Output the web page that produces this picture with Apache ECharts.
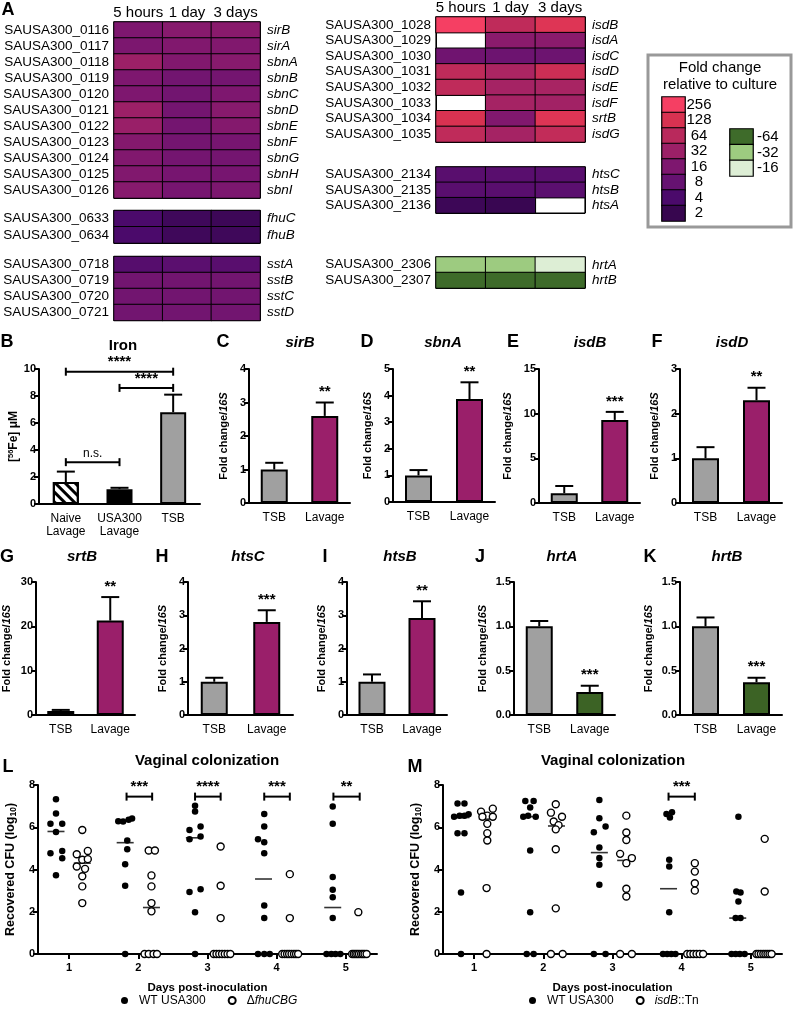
<!DOCTYPE html>
<html><head><meta charset="utf-8">
<script src="https://cdn.jsdelivr.net/npm/echarts@6/dist/echarts.min.js"></script>
<style>html,body{margin:0;padding:0;background:#fff}#c{width:794px;height:1009px}</style>
</head><body><div id="c"></div>
<script>
const FONT = '"Liberation Sans", Arial, Helvetica, sans-serif';

// ---------- Panel A: heatmap (log2 fold change relative to culture; null = not detected)
const hmCols = ['5 hours', '1 day', '3 days'];
const hmL1Ids = ['SAUSA300_0116','SAUSA300_0117','SAUSA300_0118','SAUSA300_0119','SAUSA300_0120','SAUSA300_0121','SAUSA300_0122','SAUSA300_0123','SAUSA300_0124','SAUSA300_0125','SAUSA300_0126'];
const hmL1Genes = ['sirB','sirA','sbnA','sbnB','sbnC','sbnD','sbnE','sbnF','sbnG','sbnH','sbnI'];
const hmL1Vals = [[4.0,4.3,4.35],[3.9,4.1,4.1],[5.0,4.1,4.3],[4.0,3.5,3.6],[4.0,3.5,4.0],[5.0,3.6,4.3],[4.9,3.6,4.2],[4.2,3.6,3.7],[4.1,3.6,3.6],[4.1,3.7,3.7],[4.3,3.7,3.9]];
const hmL2Ids = ['SAUSA300_0633','SAUSA300_0634'];
const hmL2Genes = ['fhuC','fhuB'];
const hmL2Vals = [[2.0,1.4,1.3],[2.0,1.4,1.4]];
const hmL3Ids = ['SAUSA300_0718','SAUSA300_0719','SAUSA300_0720','SAUSA300_0721'];
const hmL3Genes = ['sstA','sstB','sstC','sstD'];
const hmL3Vals = [[2.4,2.6,2.5],[3.5,3.5,3.5],[3.5,3.5,3.5],[3.5,3.5,3.5]];
const hmR1Ids = ['SAUSA300_1028','SAUSA300_1029','SAUSA300_1030','SAUSA300_1031','SAUSA300_1032','SAUSA300_1033','SAUSA300_1034','SAUSA300_1035'];
const hmR1Genes = ['isdB','isdA','isdC','isdD','isdE','isdF','srtB','isdG'];
const hmR1Vals = [[8.0,6.2,7.2],[null,4.4,4.4],[3.4,3.3,3.3],[6.2,5.5,6.6],[6.2,5.3,5.4],[null,5.3,5.2],[7.0,4.1,7.2],[6.2,5.3,6.3]];
const hmR2Ids = ['SAUSA300_2134','SAUSA300_2135','SAUSA300_2136'];
const hmR2Genes = ['htsC','htsB','htsA'];
const hmR2Vals = [[2.5,2.5,2.5],[2.5,2.5,2.6],[1.3,1.1,null]];
const hmR3Ids = ['SAUSA300_2306','SAUSA300_2307'];
const hmR3Genes = ['hrtA','hrtB'];
const hmR3Vals = [[-5,-5,-4],[-6,-6,-6]];
const legUpLabels = ['256','128','64','32','16','8','4','2'];
const legUpVals = [8,7,6,5,4,3,2,1];
const legDnLabels = ['-64','-32','-16'];
const legDnVals = [-6,-5,-4];
const hmPalette = ['#3E6B2A','#9DCB80','#DDEED5','#ffffff','#ffffff','#ffffff','#ffffff','#37064F','#4B0A6B','#661271','#7E176F','#9C2067','#B9295C','#D83251','#F53F63'];

// ---------- Panels B-K: bar charts
const ironCats = ['Naive\nLavage','USA300\nLavage','TSB'];
const ironMean = [1.63, 1.1, 6.8];
const ironUpper = [2.4, 1.2, 8.1];
const ironBrackets = [[0,2,9.8,'****'],[1,2,8.6,'****'],[0,1,3.1,'n.s.']];
const qCats = ['TSB','Lavage'];
const sirBMean = [1.0, 2.6],  sirBUpper = [1.2, 3.0];
const sbnAMean = [1.0, 3.87], sbnAUpper = [1.2, 4.5];
const isdBMean = [1.1, 9.3],  isdBUpper = [1.9, 10.2];
const isdDMean = [1.0, 2.3],  isdDUpper = [1.25, 2.58];
const srtBMean = [0.9, 21.3], srtBUpper = [1.15, 26.6];
const htsCMean = [1.0, 2.8],  htsCUpper = [1.12, 3.15];
const htsBMean = [1.0, 2.92], htsBUpper = [1.22, 3.42];
const hrtAMean = [1.0, 0.26], hrtAUpper = [1.06, 0.33];
const hrtBMean = [1.0, 0.37], hrtBUpper = [1.1, 0.42];

// ---------- Panels L, M: colonization (log10 CFU) [day position, value]
const dayTicks = [1,2,3,4,5];
const lWT = [[0.81,7.32],[0.81,6.65],[0.73,6.17],[0.90,6.17],[0.81,5.78],[0.73,4.77],[0.90,4.87],[0.90,4.53],[0.81,3.73],
  [1.71,6.28],[1.78,6.27],[1.86,6.35],[1.91,6.42],[1.84,5.37],[1.84,4.96],[1.81,4.25],[1.81,3.23],[1.81,0],
  [2.82,7.02],[2.82,6.74],[2.74,5.87],[2.90,6.03],[2.74,5.43],[2.90,5.56],[2.74,2.93],[2.90,3.07],[2.82,1.98],[2.82,0],
  [3.82,6.63],[3.82,6.03],[3.73,5.43],[3.82,5.29],[3.82,4.77],[3.82,2.3],[3.82,1.7],[3.73,0],[3.82,0],[3.90,0],
  [4.81,6.98],[4.81,6.16],[4.81,3.64],[4.81,3.04],[4.81,2.69],[4.81,1.7],[4.72,0],[4.79,0],[4.85,0],[4.92,0]];
const lMut = [[1.19,5.87],[1.11,4.72],[1.27,4.88],[1.19,4.46],[1.27,4.49],[1.11,4.14],[1.23,4.03],[1.19,3.68],[1.19,3.2],[1.19,2.41],
  [2.15,4.9],[2.24,4.9],[2.19,3.72],[2.19,3.2],[2.19,2.41],[2.19,2.02],[2.09,0],[2.15,0],[2.22,0],[2.27,0],
  [3.19,5.09],[3.19,3.23],[3.19,1.7],[3.09,0],[3.13,0],[3.17,0],[3.21,0],[3.25,0],[3.29,0],[3.33,0],
  [4.19,3.78],[4.19,1.7],[4.08,0],[4.115,0],[4.15,0],[4.18,0],[4.215,0],[4.25,0],[4.28,0],[4.31,0],
  [5.18,1.98],[5.09,0],[5.115,0],[5.14,0],[5.165,0],[5.19,0],[5.22,0],[5.245,0],[5.27,0],[5.30,0]];
const lWTMed = [[0.81,5.8],[1.81,5.27],[2.81,5.5],[3.81,3.55],[4.81,2.2]];
const lMutMed = [[1.19,4.3],[2.19,2.2]];
const lSig = [[1.83,2.2,7.45,'***'],[2.82,3.19,7.45,'****'],[3.82,4.19,7.45,'***'],[4.82,5.2,7.45,'**']];
const mWT = [[0.76,7.13],[0.86,7.13],[0.71,6.5],[0.79,6.55],[0.86,6.55],[0.92,6.61],[0.76,5.72],[0.86,5.72],[0.81,2.91],[0.81,0],
  [1.74,7.24],[1.86,7.24],[1.81,6.93],[1.71,6.5],[1.78,6.55],[1.89,6.5],[1.81,4.9],[1.81,1.98],[1.76,0],[1.86,0],
  [2.81,7.29],[2.81,6.43],[2.73,5.76],[2.90,6.03],[2.81,5.04],[2.81,4.54],[2.81,4.22],[2.81,3.28],[2.73,0],[2.90,0],
  [3.78,6.63],[3.86,6.71],[3.83,6.46],[3.82,4.46],[3.82,4.14],[3.82,1.98],[3.73,0],[3.79,0],[3.85,0],[3.91,0],
  [4.82,6.5],[4.79,2.96],[4.85,2.91],[4.82,2.49],[4.78,1.7],[4.85,1.7],[4.72,0],[4.78,0],[4.84,0],[4.91,0]];
const mMut = [[1.27,6.88],[1.10,6.74],[1.19,6.55],[1.12,6.5],[1.27,6.5],[1.19,6.16],[1.19,5.72],[1.19,5.37],[1.18,3.12],[1.18,0],
  [2.18,7.09],[2.11,6.69],[2.27,6.5],[2.15,6.27],[2.22,6.1],[2.18,5.9],[2.18,4.96],[2.18,2.16],[2.11,0],[2.28,0],
  [3.20,6.55],[3.20,5.75],[3.20,5.4],[3.11,4.74],[3.28,4.54],[3.20,4.3],[3.20,3.09],[3.20,2.72],[3.11,0],[3.28,0],
  [4.19,4.3],[4.19,3.9],[4.19,3.35],[4.19,3.0],[4.08,0],[4.125,0],[4.17,0],[4.215,0],[4.26,0],[4.31,0],
  [5.20,5.45],[5.20,2.96],[5.08,0],[5.11,0],[5.145,0],[5.18,0],[5.21,0],[5.24,0],[5.27,0],[5.30,0]];
const mWTMed = [[0.81,6.46],[1.81,6.5],[2.81,4.8],[3.81,3.09],[4.81,1.7]];
const mMutMed = [[1.19,6.39],[2.19,6.06],[3.19,4.43]];
const mSig = [[3.81,4.19,7.45,'***']];

// =====================================================================
const grids = [], xAxes = [], yAxes = [], series = [], graphics = [], heatSeries = [];
const BLACK = '#000';

function txt(x, y, text, font, align, extra) {
  graphics.push({type:'text', x:x, y:y, silent:true, style:Object.assign({text:text, font:font, fill:BLACK,
    align:align||'left', verticalAlign:'middle', textAlign:align||'left', textVerticalAlign:'middle'}, extra||{})});
}

function heatGrid(left, top, width, height, ids, genes, vals, showCols) {
  const gi = grids.length;
  grids.push({left:left, top:top, width:width, height:height, show:true, borderColor:BLACK, borderWidth:1.2, backgroundColor:'#fff'});
  const xi = xAxes.length;
  xAxes.push({gridIndex:gi, type:'category', data:hmCols, position:'top',
    axisLine:{show:false}, axisTick:{show:false},
    splitLine:{show:true, interval:0, lineStyle:{color:BLACK, width:1}},
    axisLabel:{show:showCols, interval:0, fontSize:15, color:BLACK, fontFamily:FONT, margin:2}});
  const yi = yAxes.length;
  yAxes.push({gridIndex:gi, type:'category', data:ids, inverse:true,
    axisLine:{show:false}, axisTick:{show:false},
    splitLine:{show:true, interval:0, lineStyle:{color:BLACK, width:1}},
    axisLabel:{interval:0, fontSize:13.5, color:BLACK, fontFamily:FONT, margin:5}});
  yAxes.push({gridIndex:gi, type:'category', data:genes, inverse:true, position:'right',
    axisLine:{show:false}, axisTick:{show:false}, splitLine:{show:false},
    axisLabel:{interval:0, fontSize:13.5, fontStyle:'italic', color:BLACK, fontFamily:FONT, margin:7}});
  const data = [];
  vals.forEach((row, r) => row.forEach((v, c) => data.push([c, r, v == null ? '-' : v])));
  heatSeries.push(series.length);
  series.push({type:'heatmap', xAxisIndex:xi, yAxisIndex:yi, data:data, silent:true,
    itemStyle:{borderColor:BLACK, borderWidth:1}, emphasis:{disabled:true}});
}

function legendSwatches(left, top, width, height, labels, vals, align, margin) {
  const gi = grids.length;
  grids.push({left:left, top:top, width:width, height:height, show:false});
  const xi = xAxes.length;
  xAxes.push({gridIndex:gi, type:'category', data:[''], show:false});
  const yi = yAxes.length;
  yAxes.push({gridIndex:gi, type:'category', data:labels, inverse:true, position:'right',
    axisLine:{show:false}, axisTick:{show:false}, splitLine:{show:false},
    axisLabel:{interval:0, fontSize:15, color:BLACK, fontFamily:FONT, margin:margin, align:align}});
  heatSeries.push(series.length);
  series.push({type:'heatmap', xAxisIndex:xi, yAxisIndex:yi, silent:true,
    data:vals.map((v, i) => [0, i, v]), itemStyle:{borderColor:BLACK, borderWidth:1.2}, emphasis:{disabled:true}});
}

const yNameStyle = {fontSize:11, fontWeight:'bold', fontFamily:FONT, color:BLACK,
  rich:{i:{fontSize:11, fontWeight:'bold', fontStyle:'italic', fontFamily:FONT, color:BLACK},
        sup:{fontSize:7.5, fontWeight:'bold', fontFamily:FONT, color:BLACK, verticalAlign:'top', lineHeight:13},
        sub:{fontSize:8.5, fontWeight:'bold', fontFamily:FONT, color:BLACK, verticalAlign:'bottom', lineHeight:15},
        n:{fontSize:12, fontWeight:'bold', fontFamily:FONT, color:BLACK, lineHeight:13}}};

function barPanel(p) {
  const gi = grids.length;
  grids.push({left:p.left, top:p.top, width:p.width, height:p.height});
  const xi = xAxes.length, yi = yAxes.length;
  xAxes.push({gridIndex:gi, type:'category', data:p.cats,
    axisLine:{lineStyle:{color:BLACK, width:2}},
    axisTick:{alignWithLabel:true, length:5, lineStyle:{color:BLACK, width:2}},
    axisLabel:{interval:0, color:BLACK, fontSize:12, fontFamily:FONT, margin:8, lineHeight:13}});
  yAxes.push({gridIndex:gi, type:'value', min:0, max:p.max, interval:p.interval,
    axisLine:{show:true, lineStyle:{color:BLACK, width:2}},
    axisTick:{show:true, length:5, lineStyle:{color:BLACK, width:2}},
    splitLine:{show:false},
    axisLabel:{color:BLACK, fontSize:11, fontWeight:'bold', fontFamily:FONT, margin:3, formatter:p.fmt},
    name:p.yname, nameLocation:'middle', nameRotate:90, nameGap:p.nameGap, nameTextStyle:yNameStyle});
  series.push({type:'bar', xAxisIndex:xi, yAxisIndex:yi, barWidth:p.barWidth || 27, silent:true,
    data:p.mean.map((v, i) => {
      const st = {color:p.colors[i], borderColor:BLACK, borderWidth:2};
      if (p.decals && p.decals[i]) st.decal = p.decals[i];
      return {value:v, itemStyle:st};
    })});
  const stars = p.stars || [];
  series.push({type:'custom', xAxisIndex:xi, yAxisIndex:yi, silent:true, z:5,
    data:p.mean.map((v, i) => [i, v, p.upper[i]]),
    renderItem:function(params, api) {
      const a = api.coord([api.value(0), api.value(1)]);
      const b = api.coord([api.value(0), api.value(2)]);
      const ch = [
        {type:'line', shape:{x1:a[0], y1:a[1], x2:b[0], y2:b[1]}, style:{stroke:BLACK, lineWidth:2}},
        {type:'line', shape:{x1:b[0]-9, y1:b[1], x2:b[0]+9, y2:b[1]}, style:{stroke:BLACK, lineWidth:2}}];
      const s = stars[params.dataIndex];
      if (s) ch.push({type:'text', x:b[0], y:b[1]-3, style:{text:s, font:'bold 15px ' + FONT, fill:BLACK,
        align:'center', verticalAlign:'bottom', textAlign:'center', textVerticalAlign:'bottom'}});
      return {type:'group', children:ch};
    }});
  if (p.brackets) {
    series.push({type:'custom', xAxisIndex:xi, yAxisIndex:yi, silent:true, z:5,
      data:p.brackets.map(b => [b[0], b[1], b[2]]),
      renderItem:function(params, api) {
        const a = api.coord([api.value(0), api.value(2)]);
        const b = api.coord([api.value(1), api.value(2)]);
        const lab = p.brackets[params.dataIndex][3];
        return {type:'group', children:[
          {type:'line', shape:{x1:a[0], y1:a[1], x2:b[0], y2:b[1]}, style:{stroke:BLACK, lineWidth:2}},
          {type:'line', shape:{x1:a[0], y1:a[1]-4, x2:a[0], y2:a[1]+4}, style:{stroke:BLACK, lineWidth:2}},
          {type:'line', shape:{x1:b[0], y1:b[1]-4, x2:b[0], y2:b[1]+4}, style:{stroke:BLACK, lineWidth:2}},
          {type:'text', x:(a[0]+b[0])/2, y:a[1]-2, style:{text:lab, font:(lab === 'n.s.' ? '12px ' : 'bold 15px ') + FONT, fill:BLACK,
            align:'center', verticalAlign:'bottom', textAlign:'center', textVerticalAlign:'bottom'}}]};
      }});
  }
}

function scatPanel(p) {
  const gi = grids.length;
  grids.push({left:p.left, top:785, width:339, height:169});
  const xi = xAxes.length, yi = yAxes.length;
  xAxes.push({gridIndex:gi, type:'value', min:0.55, max:5.45,
    axisLine:{onZero:false, lineStyle:{color:BLACK, width:2}},
    axisTick:{customValues:dayTicks, length:5, lineStyle:{color:BLACK, width:2}},
    axisLabel:{customValues:dayTicks, color:BLACK, fontSize:11, fontWeight:'bold', fontFamily:FONT, margin:8},
    splitLine:{show:false},
    name:'Days post-inoculation', nameLocation:'middle', nameGap:28,
    nameTextStyle:{fontSize:11.5, fontWeight:'bold', fontFamily:FONT, color:BLACK}});
  yAxes.push({gridIndex:gi, type:'value', min:0, max:8, interval:2,
    axisLine:{show:true, onZero:false, lineStyle:{color:BLACK, width:2}},
    axisTick:{show:true, length:5, lineStyle:{color:BLACK, width:2}},
    splitLine:{show:false},
    axisLabel:{color:BLACK, fontSize:11, fontWeight:'bold', fontFamily:FONT, margin:3},
    name:'Recovered CFU (log{sub|10})', nameLocation:'middle', nameRotate:90, nameGap:20,
    nameTextStyle:Object.assign({}, yNameStyle, {fontSize:12.5})});
  series.push({type:'scatter', name:'median', xAxisIndex:xi, yAxisIndex:yi, silent:true, clip:false, z:2,
    symbol:'rect', symbolSize:[17, 1.6], itemStyle:{color:BLACK}, data:p.wtMed.concat(p.mutMed)});
  series.push({type:'scatter', name:'WT USA300', xAxisIndex:xi, yAxisIndex:yi, silent:true, clip:false, z:3,
    symbol:'circle', symbolSize:6.5, itemStyle:{color:BLACK, opacity:1}, data:p.wt});
  series.push({type:'scatter', name:p.mutName, xAxisIndex:xi, yAxisIndex:yi, silent:true, clip:false, z:3,
    symbol:'circle', symbolSize:7, itemStyle:{color:'#fff', borderColor:BLACK, borderWidth:1.4, opacity:1}, data:p.mut});
  series.push({type:'custom', xAxisIndex:xi, yAxisIndex:yi, silent:true, z:5,
    data:p.sig.map(b => [b[0], b[1], b[2]]),
    renderItem:function(params, api) {
      const a = api.coord([api.value(0), api.value(2)]);
      const b = api.coord([api.value(1), api.value(2)]);
      const lab = p.sig[params.dataIndex][3];
      return {type:'group', children:[
        {type:'line', shape:{x1:a[0], y1:a[1], x2:b[0], y2:b[1]}, style:{stroke:BLACK, lineWidth:2}},
        {type:'line', shape:{x1:a[0], y1:a[1]-4, x2:a[0], y2:a[1]+4}, style:{stroke:BLACK, lineWidth:2}},
        {type:'line', shape:{x1:b[0], y1:b[1]-4, x2:b[0], y2:b[1]+4}, style:{stroke:BLACK, lineWidth:2}},
        {type:'text', x:(a[0]+b[0])/2, y:a[1]-2, style:{text:lab, font:'bold 15px ' + FONT, fill:BLACK,
          align:'center', verticalAlign:'bottom', textAlign:'center', textVerticalAlign:'bottom'}}]};
    }});
}

// ---------- build panel A
heatGrid(114, 22, 146, 176, hmL1Ids, hmL1Genes, hmL1Vals, true);
heatGrid(114, 210.5, 146, 32.5, hmL2Ids, hmL2Genes, hmL2Vals, false);
heatGrid(114, 256.5, 146, 64, hmL3Ids, hmL3Genes, hmL3Vals, false);
heatGrid(436, 17, 149, 125, hmR1Ids, hmR1Genes, hmR1Vals, true);
heatGrid(436, 167, 149, 46, hmR2Ids, hmR2Genes, hmR2Vals, false);
heatGrid(436, 257, 149, 31, hmR3Ids, hmR3Genes, hmR3Vals, false);
legendSwatches(662, 97, 23, 124, legUpLabels, legUpVals, 'center', 14);
legendSwatches(730, 129, 23, 47, legDnLabels, legDnVals, 'left', 4);
graphics.push({type:'rect', silent:true, shape:{x:648, y:55, width:143, height:172},
  style:{fill:'none', stroke:'#999', lineWidth:3}});
txt(720, 68, 'Fold change', '15px ' + FONT, 'center');
txt(720, 85, 'relative to culture', '15px ' + FONT, 'center');

// ---------- build B-K
const GREY = '#A0A0A0', MAG = '#9A1F6A', GRN = '#3C6325';
const fcName = 'Fold change/{i|16S}';
barPanel({left:39, top:369, width:161, height:135, cats:ironCats, mean:ironMean, upper:ironUpper,
  colors:['#fff', BLACK, GREY], max:10, interval:2, barWidth:26, nameGap:18,
  yname:'{n|[}{sup|56}{n|Fe] μM}', brackets:ironBrackets,
  decals:[{symbol:'rect', symbolSize:1, color:BLACK, dashArrayX:[1,0], dashArrayY:[3,4], rotation:Math.PI/4}, null, null]});
barPanel({left:249, top:369, width:101, height:134, cats:qCats, mean:sirBMean, upper:sirBUpper, colors:[GREY, MAG], max:4, interval:1, nameGap:20, yname:fcName, stars:[null,'**']});
barPanel({left:393, top:369, width:102, height:133, cats:qCats, mean:sbnAMean, upper:sbnAUpper, colors:[GREY, MAG], max:5, interval:1, nameGap:20, yname:fcName, stars:[null,'**']});
barPanel({left:539, top:369, width:101, height:134, cats:qCats, mean:isdBMean, upper:isdBUpper, colors:[GREY, MAG], max:15, interval:5, nameGap:26, yname:fcName, stars:[null,'***']});
barPanel({left:680, top:369, width:102, height:134, cats:qCats, mean:isdDMean, upper:isdDUpper, colors:[GREY, MAG], max:3, interval:1, nameGap:20, yname:fcName, stars:[null,'**']});
barPanel({left:32, top:582, width:103, height:133, cats:qCats, mean:srtBMean, upper:srtBUpper, colors:[GREY, MAG], max:30, interval:10, nameGap:24, yname:fcName, stars:[null,'**']});
barPanel({left:188, top:582, width:105, height:133, cats:qCats, mean:htsCMean, upper:htsCUpper, colors:[GREY, MAG], max:4, interval:1, nameGap:20, yname:fcName, stars:[null,'***']});
barPanel({left:347, top:582, width:100, height:133, cats:qCats, mean:htsBMean, upper:htsBUpper, colors:[GREY, MAG], max:4, interval:1, nameGap:20, yname:fcName, stars:[null,'**']});
barPanel({left:514, top:582, width:101, height:133, cats:qCats, mean:hrtAMean, upper:hrtAUpper, colors:[GREY, GRN], max:1.5, interval:0.5, nameGap:26, yname:fcName, stars:[null,'***'], fmt:v => v.toFixed(1)});
barPanel({left:680, top:582, width:102, height:133, cats:qCats, mean:hrtBMean, upper:hrtBUpper, colors:[GREY, GRN], max:1.5, interval:0.5, nameGap:26, yname:fcName, stars:[null,'***'], fmt:v => v.toFixed(1)});

// ---------- build L, M
scatPanel({left:38, wt:lWT, mut:lMut, wtMed:lWTMed, mutMed:lMutMed, sig:lSig, mutName:'ΔfhuCBG'});
scatPanel({left:443, wt:mWT, mut:mMut, wtMed:mWTMed, mutMed:mMutMed, sig:mSig, mutName:'isdB::Tn'});

// ---------- panel letters and titles
const LF = 'bold 18px ' + FONT, TF = 'bold 15px ' + FONT, TIF = 'italic bold 15px ' + FONT;
txt(8, 10, 'A', LF, 'center');
txt(7, 342, 'B', LF, 'center'); txt(123, 346, 'Iron', TF, 'center');
txt(223, 342, 'C', LF, 'center'); txt(300, 343, 'sirB', TIF, 'center');
txt(367, 342, 'D', LF, 'center'); txt(443, 343, 'sbnA', TIF, 'center');
txt(513, 342, 'E', LF, 'center'); txt(590, 343, 'isdB', TIF, 'center');
txt(657, 342, 'F', LF, 'center'); txt(732, 343, 'isdD', TIF, 'center');
txt(7, 557, 'G', LF, 'center'); txt(82, 557, 'srtB', TIF, 'center');
txt(162, 557, 'H', LF, 'center'); txt(248, 557, 'htsC', TIF, 'center');
txt(325, 557, 'I', LF, 'center'); txt(400, 557, 'htsB', TIF, 'center');
txt(480, 557, 'J', LF, 'center'); txt(562, 557, 'hrtA', TIF, 'center');
txt(650, 557, 'K', LF, 'center'); txt(727, 557, 'hrtB', TIF, 'center');
txt(8, 767, 'L', LF, 'center'); txt(207, 761, 'Vaginal colonization', TF, 'center');
txt(415, 767, 'M', LF, 'center'); txt(613, 761, 'Vaginal colonization', TF, 'center');

const legendText = {fontSize:12, fontFamily:FONT, color:BLACK, lineHeight:13,
  rich:{t:{fontSize:12, fontFamily:FONT, color:BLACK, lineHeight:13, padding:[0,0,0,6]},
        i:{fontSize:12, fontFamily:FONT, color:BLACK, lineHeight:13, fontStyle:'italic'}}};
function legFmt(name) {
  if (name === 'WT USA300') return '{t|WT USA300}';
  if (name === 'ΔfhuCBG') return '{t|Δ}{i|fhuCBG}';
  if (name === 'isdB::Tn') return '{t|}{i|isdB}::Tn';
  return name;
}

const option = {
  animation:false, backgroundColor:'#fff', textStyle:{fontFamily:FONT},
  grid:grids, xAxis:xAxes, yAxis:yAxes, series:series,
  visualMap:[{type:'continuous', show:false, min:-6, max:8, seriesIndex:heatSeries, inRange:{color:hmPalette}}],
  legend:[
    {data:['WT USA300','ΔfhuCBG'], left:121, top:994, padding:0, icon:'circle', itemWidth:7, itemHeight:7, itemGap:22,
      selectedMode:false, textStyle:legendText, formatter:legFmt},
    {data:['WT USA300','isdB::Tn'], left:529, top:994, padding:0, icon:'circle', itemWidth:7, itemHeight:7, itemGap:22,
      selectedMode:false, textStyle:legendText, formatter:legFmt}],
  graphic:{elements:graphics}
};
const chart = echarts.init(document.getElementById('c'), null, {renderer:'canvas', width:794, height:1009});
chart.setOption(option);
</script></body></html>
